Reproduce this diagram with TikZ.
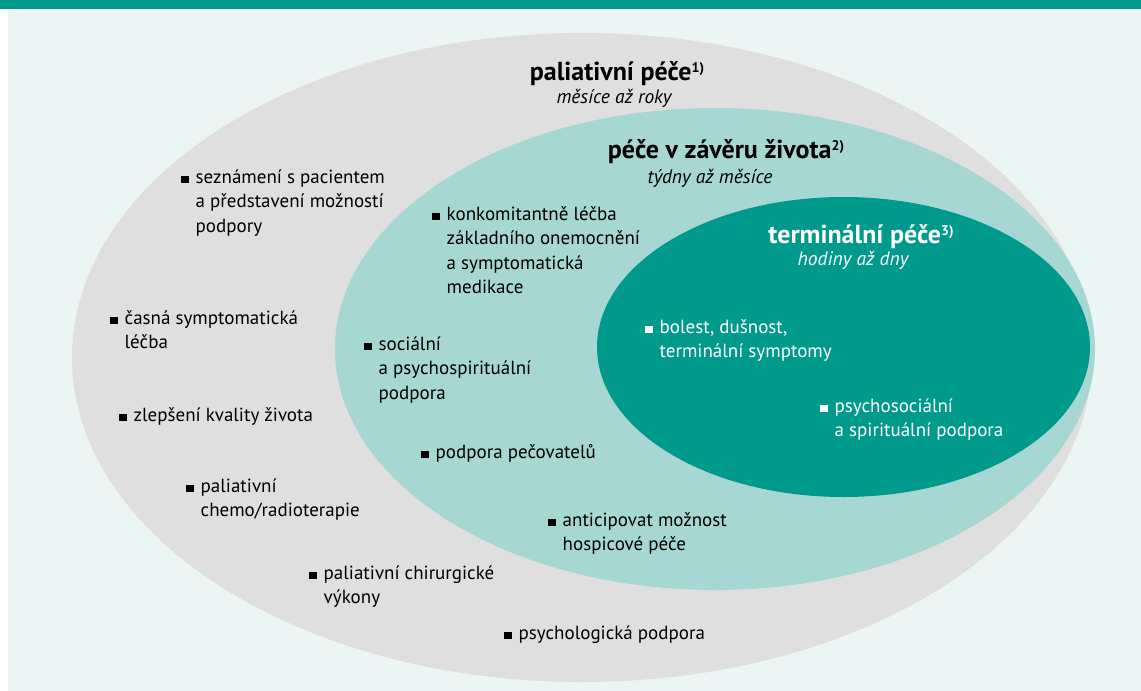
\documentclass[tikz,border=0pt]{standalone}
\usepackage{fontspec}
\setmainfont{PT Sans}

\definecolor{bartone}{HTML}{009A8C}
\definecolor{bgmint}{HTML}{EBF5F3}
\definecolor{palgray}{HTML}{DFDFDF}
\definecolor{eolmint}{HTML}{A6D7D2}
\definecolor{termteal}{HTML}{009A8C}

\newcommand{\blt}{\rule{7.5pt}{7.5pt}}
\newcommand{\lst}[1]{\begin{tabular}[t]{@{}l@{\hspace{7pt}}l@{}}#1\end{tabular}}
\newcommand{\fnm}[1]{\raisebox{8pt}{\fontsize{14}{14}\selectfont #1}}

\tikzset{
  itm/.style={anchor=base west, inner sep=0pt, font=\fontsize{19}{24.5}\selectfont},
  ttl/.style={anchor=base, inner sep=0pt, font=\fontsize{26}{28}\selectfont\bfseries},
  span/.style={anchor=base, inner sep=0pt, font=\fontsize{19.5}{22}\selectfont\itshape}
}

\begin{document}
\begin{tikzpicture}[x=1pt, y=-1pt]
	\useasboundingbox (0, 0) rectangle (1141, 691);
	\fill [white] (0, 0) rectangle (1141, 691);
	\fill [bgmint] (8, 9) rectangle (1141, 691);
	\fill [bartone] (0, 0) rectangle (1141, 9);

	% ellipses
	\fill [palgray] (582, 357.5) ellipse [x radius=510, y radius=324.5];
	\fill [eolmint] (715, 349) ellipse [x radius=380, y radius=241];
	\fill [termteal] (843.5, 347) ellipse [x radius=246.5, y radius=150];

	% paliativni pece
	\node [ttl] (paltitle) at (617, 80) {paliativní péče\fnm{1)}};
	\node [span] (palspan) at (614, 103) {měsíce až roky};

	\node [itm] (pal1) at (181, 183) {\lst{\blt & seznámení s pacientem\\ & a představení možností\\ & podpory}};
	\node [itm] (pal2) at (110, 324) {\lst{\blt & časná symptomatická\\ & léčba}};
	\node [itm] (pal3) at (119, 421) {\lst{\blt & zlepšení kvality života}};
	\node [itm] (pal4) at (186, 492) {\lst{\blt & paliativní\\ & chemo/radioterapie}};
	\node [itm] (pal5) at (309, 579) {\lst{\blt & paliativní chirurgické\\ & výkony}};
	\node [itm] (pal6) at (504, 639) {\lst{\blt & psychologická podpora}};

	% pece v zaveru zivota
	\node [ttl] (eoltitle) at (726, 158) {péče v závěru života\fnm{2)}};
	\node [span] (eolspan) at (710, 183) {týdny až měsíce};

	\node [itm] (eol1) at (432, 220) {\lst{\blt & konkomitantně léčba\\ & základního onemocnění\\ & a symptomatická\\ & medikace}};
	\node [itm] (eol2) at (364, 350) {\lst{\blt & sociální\\ & a psychospirituální\\ & podpora}};
	\node [itm] (eol3) at (421, 458) {\lst{\blt & podpora pečovatelů}};
	\node [itm] (eol4) at (548, 526) {\lst{\blt & anticipovat možnost\\ & hospicové péče}};

	% terminalni pece
	\node [ttl, white] (termtitle) at (861, 243) {terminální péče\fnm{3)}};
	\node [span, white] (termspan) at (853, 265) {hodiny až dny};

	\node [itm, white] (term1) at (645, 333) {\lst{\blt & bolest, dušnost,\\ & terminální symptomy}};
	\node [itm, white] (term2) at (820, 412) {\lst{\blt & psychosociální\\ & a spirituální podpora}};
\end{tikzpicture}
\end{document}
